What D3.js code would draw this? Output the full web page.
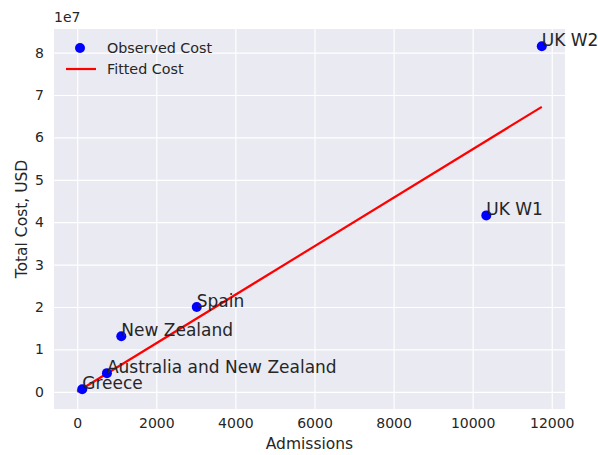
<!DOCTYPE html>
<html>
<head>
<meta charset="utf-8">
<script src="https://cdn.jsdelivr.net/npm/d3@7"></script>
<style>
  body { margin: 0; background: #fff; }
  text { font-family: "DejaVu Sans", sans-serif; fill: #262626; }
</style>
</head>
<body>
<svg width="598" height="455"></svg>
<script>
// observed points
var countries = ["UK W2", "UK W1", "Spain", "New Zealand", "Australia and New Zealand", "Greece"]
var admissions = [11748, 10345, 3023, 1115, 752, 127]
var costs = [8.15e7, 4.16e7, 2.0e7, 1.31e7, 0.44e7, 0.06e7]

// fitted line
var fitX = [0, 11748]
var fitY = [0, 6.72e7]

var xTicks = [0, 2000, 4000, 6000, 8000, 10000, 12000]
var yTicks = [0, 1e7, 2e7, 3e7, 4e7, 5e7, 6e7, 7e7, 8e7]

var margin = {left: 54, top: 29, right: 33, bottom: 46}
var width = 598, height = 455
var svg = d3.select("svg")

var xScale = d3.scaleLinear().domain([-587, 12335]).range([margin.left, width - margin.right])
var yScale = d3.scaleLinear().domain([-0.406e7, 8.556e7]).range([height - margin.bottom, margin.top])

svg.append("rect")
    .attr("x", margin.left).attr("y", margin.top)
    .attr("width", width - margin.left - margin.right)
    .attr("height", height - margin.top - margin.bottom)
    .style("fill", "#EAEAF2")

// grid
var xAxis = d3.axisBottom(xScale).tickValues(xTicks).tickSize(-(height - margin.top - margin.bottom)).tickPadding(9).tickFormat(d3.format("d"))
var gx = svg.append("g").attr("transform", "translate(0," + (height - margin.bottom) + ")").call(xAxis)
var yAxis = d3.axisLeft(yScale).tickValues(yTicks).tickSize(-(width - margin.left - margin.right)).tickPadding(10).tickFormat(d => d / 1e7)
var gy = svg.append("g").attr("transform", "translate(" + margin.left + ",0)").call(yAxis)
svg.selectAll(".domain").remove()
svg.selectAll(".tick line").style("stroke", "#fff").style("stroke-width", 1.2)
svg.selectAll(".tick text").style("font-size", "14px").style("fill", "#262626").style("font-family", "DejaVu Sans")

svg.append("text").attr("x", margin.left).attr("y", 22).style("font-size", "14px").text("1e7")

svg.append("text")
    .attr("x", (margin.left + width - margin.right) / 2).attr("y", 449)
    .attr("text-anchor", "middle").style("font-size", "15.5px").text("Admissions")
svg.append("text")
    .attr("transform", "translate(27," + (margin.top + height - margin.bottom) / 2 + ") rotate(-90)")
    .attr("text-anchor", "middle").style("font-size", "15.5px").text("Total Cost, USD")

// fitted line
var line = d3.line().x(d => xScale(d[0])).y(d => yScale(d[1]))
svg.append("path")
    .datum(fitX.map((x, i) => [x, fitY[i]]))
    .attr("d", line)
    .style("stroke", "#FF0000").style("stroke-width", 2.2).style("fill", "none")

// points
svg.selectAll("circle.pt")
    .data(countries)
    .join("circle")
    .attr("class", "pt")
    .attr("cx", (d, i) => xScale(admissions[i]))
    .attr("cy", (d, i) => yScale(costs[i]))
    .attr("r", 5)
    .style("fill", "#0000FF")

svg.selectAll("text.lab")
    .data(countries)
    .join("text")
    .attr("class", "lab")
    .attr("x", (d, i) => xScale(admissions[i]))
    .attr("y", (d, i) => yScale(costs[i]))
    .style("font-size", "17px")
    .text(d => d)

// legend
var lg = svg.append("g")
lg.append("circle").attr("cx", 80).attr("cy", 48).attr("r", 5).style("fill", "#0000FF")
lg.append("text").attr("x", 107).attr("y", 53).style("font-size", "14.3px").text("Observed Cost")
lg.append("line").attr("x1", 66).attr("x2", 96).attr("y1", 69).attr("y2", 69).style("stroke", "#FF0000").style("stroke-width", 2.2)
lg.append("text").attr("x", 107).attr("y", 74).style("font-size", "14.3px").text("Fitted Cost")
</script>
</body>
</html>
